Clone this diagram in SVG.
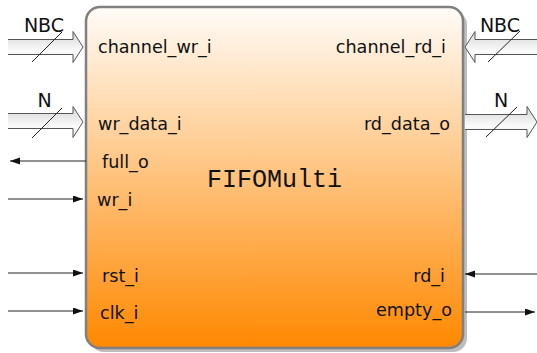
<svg xmlns="http://www.w3.org/2000/svg" width="537" height="353" viewBox="0 0 537 353">
  <defs>
    <linearGradient id="boxFill" x1="0" y1="0" x2="0" y2="1">
      <stop offset="0" stop-color="#fffcf8"/>
      <stop offset="1" stop-color="#ff8800"/>
    </linearGradient>
    <linearGradient id="busFill" x1="0" y1="0" x2="0" y2="1">
      <stop offset="0" stop-color="#d6d6d6"/>
      <stop offset="0.65" stop-color="#fbfbfb"/>
      <stop offset="1" stop-color="#e4e4e4"/>
    </linearGradient>
    <marker id="tip" markerUnits="userSpaceOnUse" markerWidth="10" markerHeight="8" refX="10" refY="3.5" orient="auto">
      <path d="M0,0 L10,3.5 L0,7 Z" fill="#111"/>
    </marker>
  </defs>
  <style>
    .lbl { font-family: "DejaVu Sans", "Liberation Sans", sans-serif; font-size: 17.6px; fill: #111; }
    .bus-lbl { font-family: "DejaVu Sans", "Liberation Sans", sans-serif; font-size: 19px; fill: #111; text-anchor: middle; }
    .title { font-family: "Liberation Mono", "DejaVu Sans Mono", monospace; font-size: 25px; fill: #111; }
    .bus-body { fill: url(#busFill); stroke: none; }
    .bus-edge { fill: none; stroke: #555; stroke-width: 1; stroke-linejoin: miter; }
    .slash { stroke: #222; stroke-width: 1; }
    .wire { stroke: #222; stroke-width: 1; fill: none; marker-end: url(#tip); }
  </style>

  <!-- FIFO block -->
  <g id="fifo">
    <rect x="90" y="11" width="377" height="341" rx="14" fill="#bdbdbd"/>
    <rect x="86" y="7" width="377" height="341" rx="14" fill="url(#boxFill)" stroke="#808080" stroke-width="2.5"/>
    <text class="title" x="207" y="187">FIFOMulti</text>
  </g>

  <!-- port labels -->
  <g id="ports">
    <text class="lbl" x="98" y="53">channel_wr_i</text>
    <text class="lbl" x="446" y="53" text-anchor="end">channel_rd_i</text>
    <text class="lbl" x="98" y="130">wr_data_i</text>
    <text class="lbl" x="450" y="130" text-anchor="end">rd_data_o</text>
    <text class="lbl" x="102" y="168">full_o</text>
    <text class="lbl" x="97" y="206">wr_i</text>
    <text class="lbl" x="102" y="282">rst_i</text>
    <text class="lbl" x="100" y="319">clk_i</text>
    <text class="lbl" x="445" y="282" text-anchor="end">rd_i</text>
    <text class="lbl" x="452" y="316" text-anchor="end">empty_o</text>
  </g>

  <!-- connectors -->
  <g id="connectors">
    <!-- channel_wr_i bus (NBC) -->
    <g id="bus-channel-wr">
      <polygon class="bus-body" points="8,39.5 73,39.5 73,31.5 83,47 73,62.5 73,54.5 8,54.5"/>
      <polyline class="bus-edge" points="8,39.5 73,39.5 73,31.5 83,47 73,62.5 73,54.5 8,54.5"/>
      <line class="slash" x1="32" y1="62" x2="62" y2="32"/>
      <text class="bus-lbl" x="44" y="32">NBC</text>
    </g>
    <!-- channel_rd_i bus (NBC) -->
    <g id="bus-channel-rd">
      <polygon class="bus-body" points="537,39.5 475,39.5 475,31.5 465,47 475,62.5 475,54.5 537,54.5"/>
      <polyline class="bus-edge" points="537,39.5 475,39.5 475,31.5 465,47 475,62.5 475,54.5 537,54.5"/>
      <line class="slash" x1="488" y1="62" x2="520" y2="31"/>
      <text class="bus-lbl" x="500" y="32">NBC</text>
    </g>
    <!-- wr_data_i bus (N) -->
    <g id="bus-wr-data">
      <polygon class="bus-body" points="8,113.5 73,113.5 73,106.5 83,122 73,137.5 73,128.5 8,128.5"/>
      <polyline class="bus-edge" points="8,113.5 73,113.5 73,106.5 83,122 73,137.5 73,128.5 8,128.5"/>
      <line class="slash" x1="32" y1="138" x2="62" y2="108"/>
      <text class="bus-lbl" x="44.5" y="107">N</text>
    </g>
    <!-- rd_data_o bus (N) -->
    <g id="bus-rd-data">
      <polygon class="bus-body" points="465,114.5 527,114.5 527,106.5 537,122 527,137.5 527,129.5 465,129.5"/>
      <polyline class="bus-edge" points="465,114.5 527,114.5 527,106.5 537,122 527,137.5 527,129.5 465,129.5"/>
      <line class="slash" x1="486" y1="137" x2="517" y2="107"/>
      <text class="bus-lbl" x="501" y="107">N</text>
    </g>
    <!-- single-bit signals -->
    <line class="wire" x1="86" y1="161" x2="10" y2="161"/>
    <line class="wire" x1="8" y1="199" x2="83" y2="199"/>
    <line class="wire" x1="8" y1="273" x2="83" y2="273"/>
    <line class="wire" x1="8" y1="311" x2="83" y2="311"/>
    <line class="wire" x1="537" y1="274" x2="465" y2="274"/>
    <line class="wire" x1="465" y1="312" x2="535" y2="312"/>
  </g>
</svg>
